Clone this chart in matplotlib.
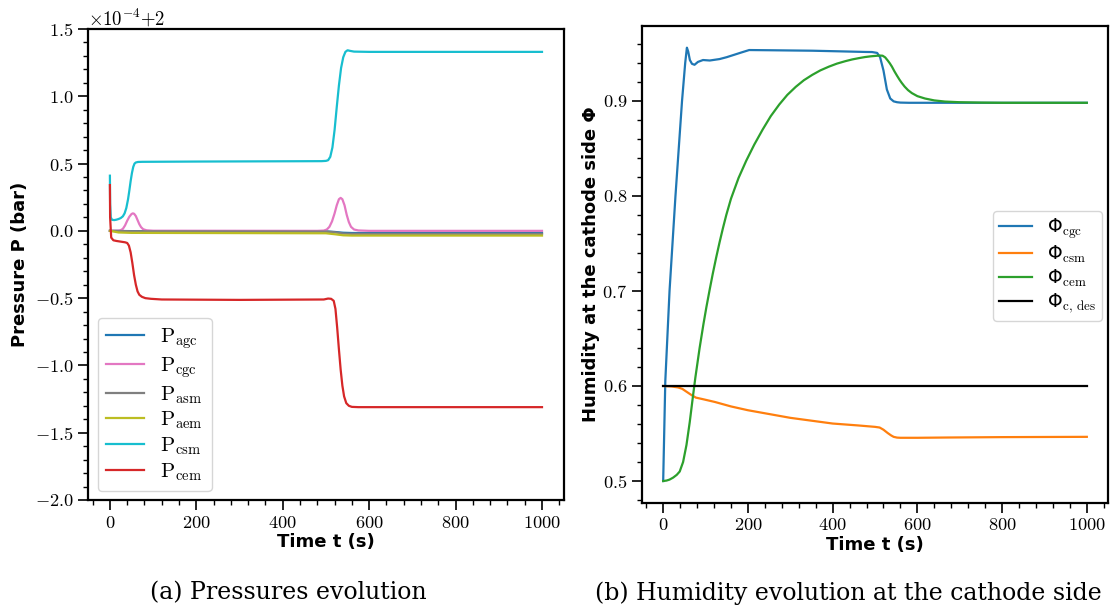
import matplotlib
matplotlib.use("Agg")
import matplotlib.pyplot as plt
import numpy as np
from matplotlib.ticker import ScalarFormatter, AutoMinorLocator, MultipleLocator

# ---------------- data ----------------
P_BASE = 2.0          # bar
P_SCALE = 1e-4        # deviations are stored in units of 1e-4 bar

# (a) pressures: time (s) and deviation from 2 bar (x1e-4)
t_agc = [0, 50, 500, 520, 540, 560, 1000]
v_agc = [0.0, -0.002, -0.004, -0.008, -0.014, -0.016, -0.016]

t_cgc = [0, 20, 25, 30, 35, 40, 45, 50, 53, 56, 60, 64, 68, 72, 77, 85, 100, 480,
         495, 502, 508, 514, 520, 525, 530, 534, 538, 543, 548, 553, 558, 565, 575,
         600, 1000]
v_cgc = [0.0, 0.002, 0.005, 0.015, 0.04, 0.075, 0.105, 0.125, 0.13, 0.127, 0.11,
         0.08, 0.05, 0.028, 0.012, 0.004, 0.001, 0.0, 0.002, 0.01, 0.03, 0.07, 0.13,
         0.19, 0.235, 0.245, 0.235, 0.19, 0.12, 0.065, 0.03, 0.01, 0.003, 0.0, 0.0]

t_asm = [0, 50, 500, 520, 540, 560, 1000]
v_asm = [0.0, -0.003, -0.005, -0.01, -0.02, -0.022, -0.022]

t_aem = [0, 20, 50, 500, 520, 540, 560, 1000]
v_aem = [0.0, -0.012, -0.015, -0.018, -0.025, -0.033, -0.035, -0.035]

t_csm = [0, 0.5, 2, 5, 10, 15, 20, 25, 30, 34, 38, 42, 45, 48, 51, 54, 57, 60, 65,
         75, 200, 400, 490, 500, 505, 510, 515, 520, 525, 530, 535, 540, 545, 550,
         555, 565, 600, 1000]
v_csm = [0.41, 0.2, 0.1, 0.082, 0.08, 0.083, 0.088, 0.095, 0.108, 0.13, 0.17, 0.235,
         0.3, 0.37, 0.43, 0.475, 0.5, 0.508, 0.512, 0.513, 0.515, 0.517, 0.518, 0.52,
         0.525, 0.55, 0.62, 0.75, 0.92, 1.08, 1.21, 1.29, 1.33, 1.342, 1.338, 1.332,
         1.33, 1.33]

t_cem = [0, 0.5, 3, 8, 15, 25, 35, 40, 44, 48, 52, 56, 60, 64, 68, 74, 82, 95, 120,
         300, 495, 505, 512, 518, 522, 526, 530, 534, 538, 542, 547, 553, 560, 575,
         1000]
v_cem = [0.34, 0.1, -0.05, -0.07, -0.075, -0.08, -0.085, -0.09, -0.11, -0.16, -0.24,
         -0.33, -0.4, -0.45, -0.475, -0.49, -0.5, -0.505, -0.51, -0.513, -0.51,
         -0.503, -0.505, -0.52, -0.58, -0.72, -0.88, -1.03, -1.15, -1.23, -1.28,
         -1.3, -1.308, -1.31, -1.31]

p_labels = [r"$\mathrm{P}_{\mathrm{agc}}$", r"$\mathrm{P}_{\mathrm{cgc}}$",
            r"$\mathrm{P}_{\mathrm{asm}}$", r"$\mathrm{P}_{\mathrm{aem}}$",
            r"$\mathrm{P}_{\mathrm{csm}}$", r"$\mathrm{P}_{\mathrm{cem}}$"]
p_colors = ["#1f77b4", "#e377c2", "#7f7f7f", "#bcbd22", "#17becf", "#d62728"]

# (b) humidity at the cathode side
t_phi_cgc = [0, 5, 15, 29, 44.5, 52, 56, 59, 63, 68, 74, 82, 94, 110, 133, 150, 164,
             185, 203, 250, 352, 430, 477, 493, 505, 512, 520, 528, 536, 544, 552,
             560, 580, 700, 1000]
v_phi_cgc = [0.5, 0.605, 0.7, 0.8, 0.9, 0.94, 0.956, 0.952, 0.943, 0.939, 0.938,
             0.941, 0.943, 0.9425, 0.944, 0.946, 0.948, 0.951, 0.9535, 0.9533, 0.9528,
             0.952, 0.9515, 0.9514, 0.9505, 0.946, 0.932, 0.912, 0.9025, 0.8995,
             0.8986, 0.8982, 0.898, 0.898, 0.898]

t_phi_csm = [0, 20, 35, 45, 55, 65, 77, 95, 122, 160, 200, 300, 400, 460, 500, 511,
             520, 530, 538, 544, 552, 560, 600, 673, 800, 1000]
v_phi_csm = [0.6, 0.5995, 0.5985, 0.597, 0.594, 0.591, 0.5878, 0.586, 0.5832, 0.5785,
             0.5745, 0.5665, 0.5605, 0.5585, 0.557, 0.5563, 0.554, 0.5505, 0.548,
             0.5465, 0.5457, 0.5455, 0.5455, 0.5458, 0.5462, 0.5465]

t_phi_cem = [0, 8, 15, 23.5, 32, 39, 47, 55, 62.7, 70.5, 76, 86, 95, 102, 110, 117,
             125, 133, 141, 149, 160, 178, 196, 215, 235, 254, 274, 293, 313, 332,
             352, 371, 391, 410, 430, 446, 462, 476, 490, 505, 513, 518, 524, 530,
             535, 540, 546, 552, 558, 563, 570, 578, 587, 600, 618, 640, 665, 700,
             750, 800, 1000]
v_phi_cem = [0.5, 0.5005, 0.5015, 0.5036, 0.5065, 0.51, 0.52, 0.538, 0.562, 0.59,
             0.609, 0.64, 0.665, 0.683, 0.702, 0.718, 0.735, 0.751, 0.766, 0.78, 0.797,
             0.819, 0.837, 0.854, 0.87, 0.884, 0.8962, 0.9063, 0.9148, 0.9217, 0.9274,
             0.9321, 0.936, 0.9392, 0.9418, 0.9436, 0.945, 0.9461, 0.9469, 0.9475,
             0.9477, 0.9475, 0.9458, 0.9425, 0.9395, 0.936, 0.931, 0.9265, 0.9222,
             0.919, 0.915, 0.9113, 0.9082, 0.905, 0.9025, 0.9005, 0.8993, 0.8986,
             0.8982, 0.898, 0.898]

t_phi_des = [0, 1000]
v_phi_des = [0.6, 0.6]

phi_labels = ["Φ$_{\\mathrm{cgc}}$", "Φ$_{\\mathrm{csm}}$", "Φ$_{\\mathrm{cem}}$",
              "Φ$_{\\mathrm{c,\\,des}}$"]
phi_colors = ["#1f77b4", "#ff7f0e", "#2ca02c", "black"]

captions = ["(a) Pressures evolution", "(b) Humidity evolution at the cathode side"]

# ---------------- style ----------------
plt.rcParams["font.family"] = ["cmr10", "DejaVu Sans"]
plt.rcParams["mathtext.fontset"] = "cm"
plt.rcParams["axes.formatter.use_mathtext"] = True
plt.rcParams["axes.linewidth"] = 1.6
plt.rcParams["xtick.major.size"] = 7
plt.rcParams["ytick.major.size"] = 7
plt.rcParams["xtick.minor.size"] = 3.6
plt.rcParams["ytick.minor.size"] = 3.6
plt.rcParams["xtick.major.width"] = 1.2
plt.rcParams["ytick.major.width"] = 1.2
plt.rcParams["xtick.minor.width"] = 1.0
plt.rcParams["ytick.minor.width"] = 1.0
plt.rcParams["xtick.labelsize"] = 13.2
plt.rcParams["ytick.labelsize"] = 13.2

label_font = dict(family="DejaVu Sans", weight="bold", size=13)

W, H = 1112, 607
fig = plt.figure(figsize=(W / 100, H / 100), dpi=100)

ax1 = fig.add_axes([88.3 / W, 1 - 500 / H, (563.6 - 88.3) / W, (500 - 29) / H])
ax2 = fig.add_axes([642 / W, 1 - 502.7 / H, (1108 - 642) / W, (502.7 - 26) / H])

# ---- (a)
series_p = [(t_agc, v_agc), (t_cgc, v_cgc), (t_asm, v_asm), (t_aem, v_aem),
            (t_csm, v_csm), (t_cem, v_cem)]
for (tt, vv), lab, col in zip(series_p, p_labels, p_colors):
    ax1.plot(tt, P_BASE + np.asarray(vv) * P_SCALE, color=col, lw=1.6, label=lab)

ax1.set_xlim(-50, 1050)
ax1.set_ylim(P_BASE - 2.0 * P_SCALE, P_BASE + 1.5 * P_SCALE)
ax1.yaxis.set_major_locator(MultipleLocator(0.5 * P_SCALE))
fmt = ScalarFormatter(useOffset=P_BASE, useMathText=True)
fmt.set_powerlimits((-3, 3))
ax1.yaxis.set_major_formatter(fmt)
ax1.yaxis.get_offset_text().set_fontsize(13.5)
ax1.xaxis.set_minor_locator(AutoMinorLocator(5))
ax1.yaxis.set_minor_locator(AutoMinorLocator(5))
ax1.set_xlabel("Time t (s)", labelpad=2, **label_font)
ax1.set_ylabel("Pressure P (bar)", labelpad=4, **label_font)
ax1.legend(loc="lower left", bbox_to_anchor=(0.0204, 0.019), borderaxespad=0,
           prop=dict(size=15), handlelength=1.8, labelspacing=0.2)

# ---- (b)
series_phi = [(t_phi_cgc, v_phi_cgc), (t_phi_csm, v_phi_csm), (t_phi_cem, v_phi_cem),
              (t_phi_des, v_phi_des)]
for (tt, vv), lab, col in zip(series_phi, phi_labels, phi_colors):
    ax2.plot(tt, vv, color=col, lw=1.6, label=lab)

ax2.margins(x=0.05, y=0.05)
ax2.xaxis.set_minor_locator(AutoMinorLocator(5))
ax2.yaxis.set_minor_locator(AutoMinorLocator(5))
ax2.set_xlabel("Time t (s)", labelpad=2, **label_font)
ax2.set_ylabel("Humidity at the cathode side Φ", labelpad=2, **label_font)
ax2.legend(loc="upper right", bbox_to_anchor=(0.987, 0.612), borderaxespad=0,
           prop=dict(family="DejaVu Sans", size=13.5), handlelength=1.8,
           labelspacing=0.15, borderpad=0.3)

for ax in (ax1, ax2):
    ax.tick_params(which="both", direction="out", top=False, right=False)

fig.text(288 / W, 1 - 593 / H, captions[0], ha="center", va="center",
         family="DejaVu Serif", fontsize=17)
fig.text(848 / W, 1 - 593 / H, captions[1], ha="center", va="center",
         family="DejaVu Serif", fontsize=17)

fig.savefig("out.png", dpi=100)
